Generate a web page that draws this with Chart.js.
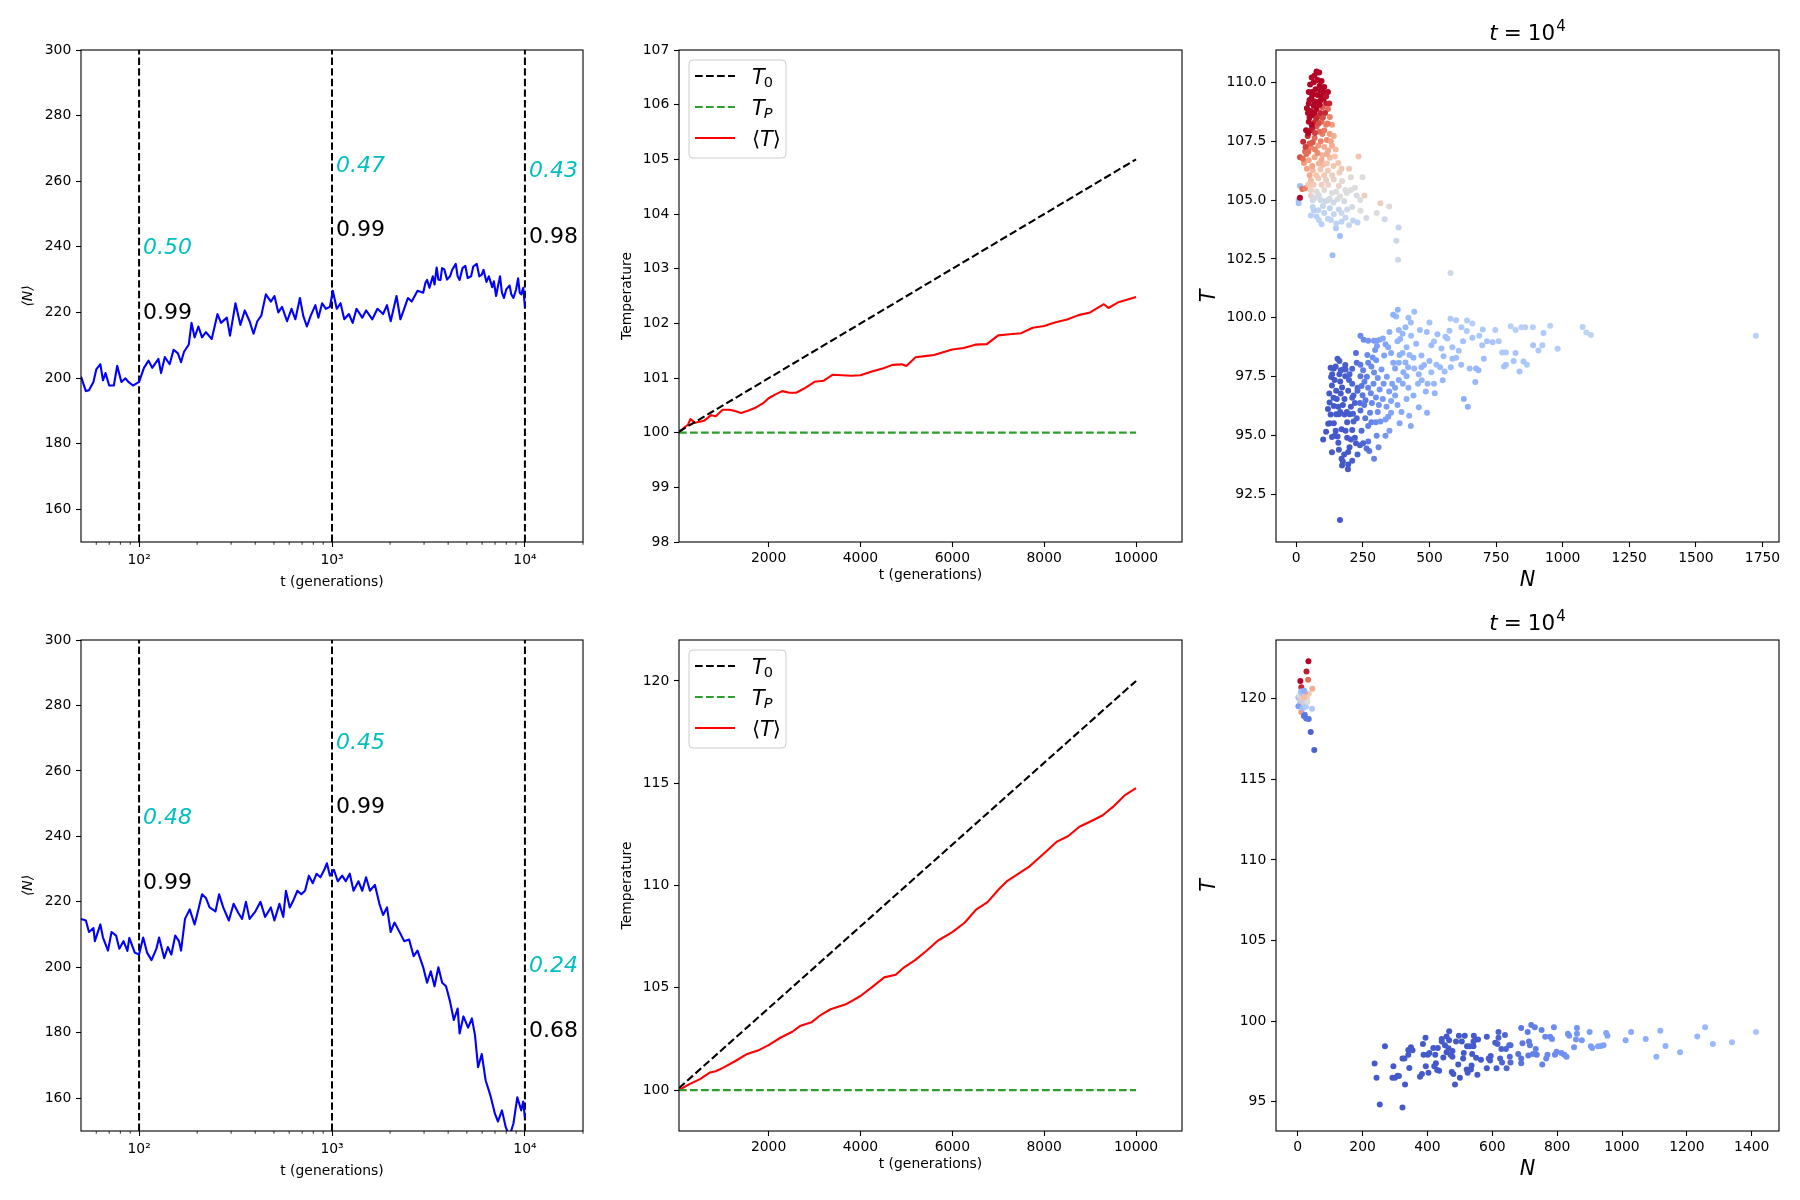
<!DOCTYPE html>
<html><head><meta charset="utf-8">
<script src="https://cdn.jsdelivr.net/npm/chart.js@4.4.0/dist/chart.umd.min.js"></script>
<style>
html,body{margin:0;padding:0;background:#fff;}
#wrap{position:relative;width:1800px;height:1200px;overflow:hidden;background:#fff;}
canvas{position:absolute;}
</style></head><body><div id="wrap">
<canvas id="c1"></canvas><canvas id="c2"></canvas><canvas id="c3"></canvas>
<canvas id="c4"></canvas><canvas id="c5"></canvas><canvas id="c6"></canvas>
</div>
<script>
// ===================== DATA =====================
// Panel 1 (top-left): <N> vs t (log axis)
const popTop = [[50,200.4],[53,196],[55,196.3],[58,198.8],[60,202.6],[63,204.2],[65,199.3],[67,201.5],[70,197.7],[74,197.7],[77,203.7],[81,198.8],[85,199.9],[88,198.8],[93,197.7],[100,198.8],[106,203.1],[112,205.3],[117,203.1],[126,205.8],[130,201.5],[136,206.4],[144,204.2],[151,208.6],[159,207.5],[165,204.8],[171,208],[181,210.2],[187,216.8],[194,212.4],[203,215.7],[212,212.4],[222,214],[238,211.9],[255,219.5],[266,216.8],[285,218.4],[296,212.9],[316,222.8],[335,216.2],[353,220.6],[374,217.3],[392,213.5],[410,217.3],[430,219],[454,225.5],[482,223.3],[503,225],[527,220],[551,221.7],[585,217.3],[617,221.1],[646,217.9],[682,224.4],[709,219],[741,215.7],[776,219],[820,222.2],[850,218.4],[889,222.8],[930,221.1],[975,221.7],[1010,226.6],[1058,221.1],[1107,222.8],[1158,217.9],[1223,219.5],[1280,216.8],[1340,221.1],[1435,218.4],[1502,220.6],[1618,217.9],[1720,221.1],[1840,219.5],[1928,222.2],[2015,217.3],[2160,225],[2262,217.9],[2366,221.1],[2475,224.4],[2590,223.3],[2775,226.6],[2970,226],[3050,229],[3110,229.9],[3200,227.5],[3330,231],[3400,228.5],[3486,233.7],[3560,230],[3650,229.9],[3720,233.5],[3820,233.1],[3950,230],[4090,231],[4200,233],[4380,234.8],[4480,231],[4585,229.9],[4750,233.5],[4910,234.2],[5050,230.5],[5260,231],[5400,234],[5630,234.8],[5800,231],[5975,231.5],[6100,233],[6320,229.3],[6500,231],[6770,227.7],[6900,229.5],[7090,225],[7250,228],[7430,231],[7600,226],[7780,224.4],[8000,227],[8330,228.2],[8500,225.5],[8720,224.4],[9000,227],[9220,230.4],[9400,226],[9570,225.5],[9800,227.5],[10000,221.7]];
// Panel 4 (bottom-left)
const popBot = [[50,214.8],[53,214.3],[55,210.8],[58,212],[59,208],[63,213.1],[65,209.1],[69,205.1],[72,210.8],[76,209.7],[79,205.7],[83,208],[87,205],[89,209],[95,204.5],[100,203.9],[105,209.1],[110,204.5],[116,202.2],[123,205.7],[127,209.1],[135,202.8],[141,206.2],[147,203.9],[154,209.7],[161,208],[165,205.1],[173,214.8],[183,217.7],[194,213.1],[203,217.7],[212,222.3],[222,221.2],[232,218.3],[249,217.1],[260,222.3],[273,218.3],[292,214.3],[309,219.4],[327,216.6],[342,214.8],[358,220],[374,214.8],[401,217.1],[426,220],[450,215.4],[482,218.3],[503,214.3],[534,219.4],[559,215.4],[577,223.4],[604,218.3],[632,220.6],[662,223.4],[693,222.3],[725,223.4],[759,228],[795,225.7],[832,228.6],[871,227.5],[912,229.8],[941,231.8],[976,228],[1023,229.8],[1071,226.3],[1129,228],[1178,226.3],[1236,228.6],[1293,223.4],[1371,226.3],[1435,223.4],[1502,227.5],[1573,223.4],[1668,225.2],[1761,219.4],[1840,216],[1928,218.3],[2015,210.8],[2108,213.7],[2262,210.3],[2366,208],[2510,208.5],[2650,203.4],[2775,205.1],[2970,200],[3110,195.3],[3250,198.8],[3400,194.2],[3560,200],[3725,195.3],[3900,194.2],[4090,189.6],[4280,183.9],[4480,187.4],[4585,179.8],[4800,185],[5075,181.6],[5310,184.4],[5510,179.3],[5715,169.5],[5975,173.5],[6255,165.5],[6620,160.9],[6995,155.2],[7250,152.9],[7600,156.3],[7960,151.1],[8330,148.5],[8720,152.3],[9130,160.3],[9570,156.3],[9800,159],[10000,154]];
const vLinesT = [100, 1000, 10000];
const annTopCyan = ['0.50','0.47','0.43'], annTopCyanY = [237.7, 262.9, 261.4];
const annTopBlack = ['0.99','0.99','0.98'], annTopBlackY = [218.1, 243.2, 241.2];
const annBotCyan = ['0.48','0.45','0.24'], annBotCyanY = [243.9, 266.8, 198.5];
const annBotBlack = ['0.99','0.99','0.68'], annBotBlackY = [223.8, 247.0, 178.7];
const logTicks = [100, 1000, 10000];
const logTickLabels = ['10\u00B2','10\u00B3','10\u2074'];
const logMinor = [60,70,80,90,200,300,400,500,600,700,800,900,2000,3000,4000,5000,6000,7000,8000,9000,20000];
const popYTicks = [160,180,200,220,240,260,280,300];

// Panel 2 (top-middle): temperatures
const t0Top = [[50,100.02],[10000,105]];
const tpTop = [[50,100],[10000,100]];
const meanTTop = [[50,100.0],[150,100.08],[250,100.15],[300,100.25],[400,100.18],[500,100.2],[600,100.22],[750,100.32],[850,100.3],[1000,100.42],[1150,100.42],[1250,100.4],[1400,100.36],[1550,100.4],[1700,100.45],[1800,100.5],[1900,100.55],[2000,100.63],[2150,100.7],[2300,100.76],[2450,100.73],[2600,100.73],[2800,100.82],[3000,100.93],[3200,100.95],[3400,101.06],[3600,101.05],[3800,101.04],[4000,101.05],[4250,101.12],[4500,101.18],[4700,101.24],[4900,101.25],[5000,101.22],[5200,101.38],[5400,101.4],[5600,101.42],[5800,101.47],[6000,101.52],[6250,101.55],[6500,101.61],[6750,101.62],[7000,101.78],[7250,101.8],[7500,101.82],[7750,101.92],[8000,101.95],[8250,102.02],[8500,102.07],[8750,102.15],[9000,102.2],[9200,102.3],[9300,102.35],[9400,102.28],[9600,102.38],[9800,102.43],[10000,102.48]];
// Panel 5 (bottom-middle)
const t0Bot = [[50,100.1],[10000,120]];
const tpBot = [[50,100],[10000,100]];
const meanTBot = [[50,100.0],[267,100.28],[517,100.55],[725,100.86],[850,100.92],[1017,101.1],[1267,101.41],[1517,101.75],[1767,101.93],[2000,102.2],[2267,102.57],[2517,102.85],[2683,103.13],[2933,103.31],[3142,103.68],[3350,103.95],[3683,104.19],[4000,104.6],[4267,105.06],[4517,105.51],[4767,105.64],[4933,105.97],[5183,106.34],[5433,106.8],[5683,107.3],[6000,107.72],[6267,108.18],[6517,108.82],[6767,109.19],[7017,109.83],[7183,110.2],[7433,110.57],[7683,110.94],[8000,111.58],[8267,112.13],[8517,112.41],[8767,112.87],[9017,113.14],[9267,113.42],[9517,113.88],[9767,114.43],[10000,114.76]];
const tempXTicks = [2000,4000,6000,8000,10000];
const tempTopYTicks = [98,99,100,101,102,103,104,105,106,107];
const tempBotYTicks = [100,105,110,115,120];
const legendNames = ['T_0','T_P','<T>'];

// Panel 3 (top-right) scatter: [N, T, colour value]
const scatTopUpper = [[76,110.46,1],[86,110.41,1],[69,110.29,1],[95,110.05,1],[119,109.59,1],[101,109.59,1],[47,109.59,1],[62,109.6,1],[80,109.46,1],[57,109.3,1],[69,109.18,1],[91,109.23,1],[112,109.1,0.97],[124,109.1,0.95],[47,109.1,1],[55,108.78,1],[76,108.86,1],[98,108.94,0.88],[62,108.61,1],[83,108.56,0.92],[119,108.86,0.85],[126,108.53,0.8],[47,108.32,1],[69,108.29,0.95],[95,108.32,0.85],[37,107.96,1],[55,107.96,0.97],[76,108.12,0.88],[112,108.2,0.8],[134,108.2,0.75],[26,107.47,0.95],[43,107.72,0.95],[69,107.63,0.85],[98,107.8,0.8],[126,107.8,0.75],[141,107.72,0.7],[14,106.82,0.9],[33,107.06,0.85],[55,107.23,0.8],[83,107.31,0.75],[105,107.25,0.7],[134,107.3,0.7],[148,107.15,0.65],[29,106.57,0.75],[47,106.69,0.72],[69,106.82,0.72],[98,106.9,0.68],[126,106.79,0.65],[158,106.57,0.62],[170,106.33,0.6],[198,106.33,0.6],[162,106.17,0.58],[205,105.97,0.52],[40,106.33,0.72],[62,106.25,0.65],[91,106.3,0.62],[119,106.25,0.6],[55,105.84,0.65],[83,105.92,0.6],[112,105.85,0.58],[141,105.87,0.55],[172,105.81,0.52],[184,105.43,0.5],[205,105.43,0.5],[227,105.19,0.48],[55,105.43,0.55],[76,105.36,0.52],[105,105.43,0.52],[134,105.3,0.5],[155,105.03,0.48],[62,104.99,0.45],[91,105.0,0.45],[119,104.99,0.45],[62,104.7,0.4],[83,104.57,0.4],[105,104.45,0.4],[126,104.65,0.4],[55,104.34,0.38],[76,104.3,0.38],[141,104.4,0.42],[170,104.45,0.45],[191,104.6,0.45],[213,104.13,0.4],[230,104.05,0.4],[198,103.93,0.42],[170,104.08,0.4],[95,103.97,0.38],[119,104.2,0.4],[234,106.85,0.62],[256,105.19,0.58],[316,104.86,0.58],[349,104.73,0.52],[302,104.45,0.5],[332,104.18,0.45],[263,104.24,0.47],[241,104.54,0.5],[249,105.97,0.5],[220,105.52,0.5],[384,103.83,0.42],[376,103.27,0.44],[382,102.46,0.45],[579,101.9,0.45],[136,102.66,0.3],[164,103.47,0.3],[149,103.8,0.35],[14,105.6,0.3],[9,105.0,0.3],[9,104.86,0.32],[14,105.1,1],[23,105.47,0.85],[33,105.5,0.8],[55,105.19,0.55],[66,110.0,1],[88,109.85,1],[105,109.8,1],[52,109.9,1],[73,109.7,1],[95,109.4,1],[40,108.9,1],[66,109.0,1],[88,109.05,1],[108,108.7,0.95],[50,108.5,1],[75,108.45,0.95],[100,108.5,0.9],[60,108.05,0.97],[88,107.9,0.85],[115,107.55,0.78],[50,107.4,0.88],[80,107.0,0.78],[115,106.95,0.7],[38,106.95,0.85],[60,106.45,0.72],[100,106.5,0.65],[140,106.45,0.62],[75,106.05,0.62],[120,105.65,0.55],[160,105.6,0.55],[95,105.65,0.58],[70,105.1,0.48],[140,104.9,0.45],[180,104.95,0.47],[100,104.75,0.42],[160,104.6,0.42],[85,104.15,0.38],[130,104.15,0.4],[150,104.0,0.4],[185,104.25,0.42],[66,104.55,0.38],[210,104.7,0.47],[240,105.0,0.5],[58,110.2,1],[80,110.1,1],[92,109.65,1],[60,109.45,1],[103,109.3,1],[50,109.25,1],[78,109.15,1],[112,109.4,0.98],[44,108.7,1],[67,108.7,1],[90,108.7,0.95],[118,108.25,0.82],[58,108.2,1],[84,108.25,0.9],[45,107.85,1],[70,107.85,0.92],[105,107.95,0.82],[130,107.5,0.72],[35,107.25,0.92],[62,107.45,0.88],[92,107.5,0.8],[120,107.1,0.7],[45,107.05,0.85],[70,107.15,0.8],[95,106.7,0.7],[145,106.85,0.62],[25,106.75,0.85],[50,106.05,0.7],[85,106.55,0.68],[115,106.55,0.62],[135,106.05,0.58],[65,105.65,0.6],[105,106.05,0.6],[150,105.35,0.5],[45,105.65,0.62],[125,105.05,0.47],[85,105.2,0.48],[110,104.95,0.45],[190,105.3,0.5],[165,105.15,0.5]];
const scatTopLower = [[1725,99.24,0.38],[1075,99.61,0.38],[1089,99.38,0.4],[1106,99.27,0.4],[981,98.68,0.36],[953,99.66,0.38],[928,99.35,0.35],[924,98.83,0.35],[909,98.61,0.35],[888,99.6,0.37],[889,98.83,0.33],[859,99.6,0.37],[845,99.6,0.38],[823,99.48,0.37],[805,99.64,0.38],[838,97.72,0.33],[866,98.01,0.35],[853,98.14,0.33],[823,98.5,0.33],[816,98.17,0.33],[787,98.53,0.35],[780,97.93,0.32],[787,98.01,0.33],[773,98.53,0.35],[747,99.48,0.36],[737,98.96,0.33],[716,99.0,0.33],[704,98.26,0.3],[698,98.83,0.33],[684,97.77,0.28],[687,99.24,0.35],[675,97.85,0.28],[661,99.76,0.36],[641,99.89,0.36],[640,99.44,0.35],[651,97.85,0.3],[672,97.27,0.28],[644,96.22,0.25],[629,96.55,0.25],[661,99.15,0.33],[626,99.0,0.32],[619,98.01,0.3],[600,99.9,0.35],[579,99.96,0.35],[575,99.45,0.33],[586,98.75,0.32],[586,98.26,0.3],[567,99.12,0.32],[553,98.37,0.3],[557,97.72,0.3],[550,97.35,0.28],[526,98.01,0.3],[517,98.99,0.32],[507,98.83,0.3],[500,98.17,0.28],[493,97.2,0.27],[486,96.87,0.27],[491,95.97,0.25],[507,97.69,0.3],[517,97.2,0.28],[457,97.2,0.27],[471,97.35,0.27],[443,97.85,0.28],[464,99.48,0.3],[431,99.24,0.3],[425,98.42,0.28],[414,98.75,0.28],[399,99.32,0.28],[385,99.48,0.28],[375,100.05,0.28],[364,100.13,0.25],[381,100.34,0.27],[421,100.0,0.3],[443,100.26,0.3],[414,97.52,0.25],[421,97.03,0.25],[414,96.55,0.25],[424,95.84,0.25],[388,95.52,0.22],[356,95.97,0.22],[335,95.68,0.2],[335,94.99,0.18],[309,94.5,0.15],[292,94.02,0.13],[302,94.99,0.15],[270,94.75,0.1],[274,94.34,0.1],[264,94.45,0.08],[251,94.67,0.06],[239,94.59,0.05],[224,94.67,0.04],[220,94.91,0.04],[195,93.77,0.03],[172,93.73,0.03],[170,94.01,0.03],[194,93.57,0.03],[210,93.93,0.04],[164,91.41,0.03],[134,94.29,0.03],[101,94.83,0.03],[112,95.16,0.03],[134,94.94,0.03],[155,94.96,0.03],[158,94.69,0.03],[126,95.52,0.03],[141,95.52,0.03],[129,95.89,0.03],[119,96.13,0.03],[141,96.25,0.03],[124,96.79,0.03],[134,97.12,0.03],[131,97.49,0.03],[155,98.26,0.04],[162,98.17,0.04],[148,97.93,0.04],[144,97.36,0.03],[162,97.6,0.03],[172,97.04,0.03],[184,97.52,0.04],[198,97.36,0.05],[210,97.2,0.06],[227,98.09,0.08],[230,97.03,0.07],[220,96.38,0.05],[205,96.22,0.04],[181,95.89,0.03],[191,95.56,0.03],[210,95.24,0.04],[227,95.73,0.06],[213,95.93,0.05],[181,96.55,0.03],[167,96.79,0.03],[152,96.55,0.03],[158,96.22,0.03],[170,95.27,0.03],[148,95.2,0.03],[191,94.91,0.03],[205,94.83,0.04],[241,98.01,0.1],[251,97.77,0.12],[241,97.52,0.1],[256,97.28,0.12],[270,97.03,0.13],[249,96.71,0.1],[239,96.38,0.08],[241,96.06,0.08],[259,95.73,0.1],[277,95.97,0.13],[282,95.56,0.13],[299,95.56,0.15],[316,95.6,0.17],[306,96.0,0.16],[284,96.38,0.14],[299,96.62,0.16],[313,96.95,0.18],[325,96.55,0.18],[339,96.22,0.2],[356,96.47,0.22],[371,96.7,0.22],[328,97.2,0.18],[306,97.44,0.17],[292,97.68,0.16],[282,97.93,0.15],[270,98.09,0.14],[267,98.42,0.15],[287,98.31,0.17],[296,98.63,0.18],[303,98.8,0.2],[313,99.07,0.22],[325,99.12,0.23],[335,98.88,0.22],[345,98.75,0.23],[356,98.5,0.23],[364,98.09,0.23],[371,97.85,0.22],[385,98.09,0.25],[388,98.42,0.25],[399,98.5,0.27],[402,97.69,0.25],[385,97.36,0.23],[371,97.03,0.22],[349,96.87,0.2],[241,99.24,0.15],[253,99.07,0.15],[270,99.02,0.17],[292,99.02,0.18],[302,99.02,0.2],[224,98.5,0.08],[210,97.84,0.06],[184,98.0,0.04],[167,97.77,0.04],[141,97.85,0.03],[129,97.88,0.03],[150,96.9,0.03],[175,96.3,0.03],[195,96.9,0.04],[200,95.9,0.04],[185,97.8,0.04],[160,95.9,0.03],[215,96.7,0.05],[200,94.5,0.03],[180,94.2,0.03],[120,95.5,0.03],[245,95.2,0.07],[260,96.5,0.1],[230,94.2,0.05],[175,93.9,0.03],[190,96.0,0.03],[165,97.3,0.03],[350,99.4,0.25],[380,99.0,0.27],[410,99.6,0.28],[450,98.9,0.28],[470,98.4,0.28],[440,96.7,0.25],[460,96.2,0.25],[480,98.0,0.28],[530,99.3,0.3],[545,98.7,0.3],[560,99.2,0.32],[610,98.6,0.32],[620,99.6,0.35],[700,99.5,0.35],[760,99.0,0.35],[520,96.8,0.27],[395,96.0,0.23],[430,95.4,0.23],[350,95.2,0.2],[460,97.6,0.27],[140,96.6,0.03],[165,96.0,0.03],[185,95.2,0.03],[150,95.9,0.03],[200,97.6,0.05],[175,97.8,0.04],[215,95.6,0.05],[230,96.9,0.07],[195,94.3,0.03],[160,94.4,0.03],[145,95.0,0.03],[125,96.4,0.03],[135,97.6,0.03],[210,96.6,0.05],[245,97.1,0.1],[255,96.3,0.1],[270,95.4,0.12],[280,96.8,0.14],[290,97.2,0.15],[265,97.5,0.12],[300,98.2,0.18],[320,97.8,0.19],[340,97.5,0.2],[360,97.2,0.21],[330,98.4,0.21],[310,96.3,0.17],[345,95.8,0.2],[380,96.3,0.22],[400,97.2,0.24],[420,97.9,0.26],[440,98.3,0.27],[410,98.1,0.26],[390,99.1,0.27],[430,99.8,0.3],[490,99.4,0.3],[500,99.8,0.32],[470,97.9,0.27],[540,97.9,0.29],[580,97.9,0.3],[600,98.3,0.31]];
const scatTopXTicks = [0,250,500,750,1000,1250,1500,1750];
const scatTopYTicks = [92.5,95.0,97.5,100.0,102.5,105.0,107.5,110.0];

// Panel 6 (bottom-right) scatter
const scatBotUpper = [[33,122.32,1],[27,121.68,0.97],[8,121.09,1],[32,121.18,0.85],[11,120.71,0.95],[17,120.47,0.9],[45,120.62,0.7],[34,120.3,0.6],[22,120.3,0.75],[2,120.07,0.3],[14,119.9,0.4],[7,119.72,0.45],[28,120.07,0.55],[17,119.6,0.6],[11,119.17,0.75],[44,119.38,0.35],[2,119.53,0.2],[22,119.0,0.15],[19,118.93,0.1],[34,118.74,0.1],[26,118.77,0.1],[40,117.94,0.05],[51,116.82,0.05],[5,120.19,0.5],[14,120.19,0.35],[19,119.9,0.4],[10,120.45,0.3],[20,120.5,0.25],[15,119.4,0.3],[25,119.5,0.35],[8,119.9,0.35],[30,119.8,0.5],[12,120.0,0.6],[20,120.1,0.65]];
const scatBotLower = [[237,97.37,0.03],[243,96.49,0.03],[253,94.83,0.03],[269,98.44,0.03],[295,97.2,0.03],[292,96.49,0.03],[300,96.49,0.03],[308,96.61,0.03],[312,96.6,0.03],[323,97.68,0.03],[329,97.68,0.03],[323,94.64,0.03],[331,96.07,0.03],[341,98.22,0.03],[341,97.92,0.03],[344,97.1,0.03],[349,98.39,0.03],[354,98.2,0.03],[377,96.56,0.03],[383,96.73,0.03],[386,98.58,0.03],[388,97.92,0.03],[394,98.98,0.03],[395,97.2,0.03],[401,97.92,0.03],[403,96.8,0.03],[406,98.03,0.03],[418,98.34,0.03],[421,97.2,0.03],[424,97.92,0.03],[426,97.39,0.03],[430,96.97,0.03],[432,98.34,0.03],[436,96.92,0.03],[444,98.74,0.03],[444,98.9,0.03],[449,97.75,0.03],[454,98.51,0.03],[459,98.08,0.03],[459,99.05,0.03],[467,99.38,0.03],[467,98.82,0.03],[465,98.32,0.03],[471,97.92,0.03],[475,96.85,0.03],[477,98.15,0.03],[477,97.8,0.03],[480,96.73,0.03],[485,96.07,0.03],[488,98.74,0.03],[495,97.32,0.03],[497,99.1,0.03],[500,96.49,0.03],[506,98.74,0.03],[510,97.68,0.03],[512,98.03,0.03],[515,99.1,0.03],[522,98.44,0.03],[521,97.01,0.03],[524,96.8,0.03],[530,98.44,0.03],[534,97.01,0.03],[536,97.25,0.03],[538,97.96,0.03],[542,98.74,0.03],[543,99.1,0.03],[542,98.44,0.03],[548,98.86,0.03],[550,97.73,0.03],[554,96.68,0.03],[556,98.86,0.03],[565,97.61,0.03],[583,99.03,0.04],[583,97.08,0.04],[589,97.68,0.04],[593,97.56,0.04],[595,97.84,0.04],[609,98.67,0.04],[613,97.08,0.04],[616,98.58,0.05],[619,99.33,0.05],[619,98.98,0.05],[624,97.68,0.05],[628,98.27,0.05],[630,97.44,0.06],[639,99.15,0.06],[642,98.27,0.06],[644,97.08,0.06],[652,98.51,0.07],[654,97.8,0.07],[656,98.51,0.07],[656,97.44,0.07],[680,97.96,0.09],[689,99.57,0.1],[693,98.63,0.1],[689,97.68,0.09],[689,97.39,0.09],[709,99.33,0.11],[713,98.74,0.11],[716,98.51,0.11],[711,97.87,0.11],[720,99.76,0.12],[725,97.96,0.12],[731,99.62,0.12],[734,98.27,0.12],[737,97.92,0.12],[752,99.45,0.13],[754,97.32,0.13],[763,99.03,0.14],[766,97.68,0.14],[770,97.92,0.14],[778,99.03,0.14],[784,98.9,0.15],[790,99.62,0.15],[793,97.92,0.15],[798,98.1,0.15],[813,98.03,0.16],[822,97.92,0.16],[829,97.8,0.17],[833,99.22,0.17],[837,99.1,0.17],[852,98.39,0.18],[861,99.57,0.18],[861,99.22,0.18],[858,98.86,0.18],[876,98.82,0.19],[900,99.33,0.2],[904,98.44,0.2],[908,98.34,0.2],[926,98.44,0.21],[935,98.46,0.21],[943,98.51,0.21],[951,99.27,0.22],[955,99.1,0.22],[1011,98.82,0.23],[1028,99.33,0.24],[1073,98.9,0.25],[1106,97.8,0.26],[1118,99.41,0.26],[1134,98.46,0.26],[1179,98.08,0.27],[1232,99.05,0.28],[1256,99.62,0.29],[1280,98.58,0.29],[1339,98.7,0.31],[1413,99.33,0.33]];
const scatBotXTicks = [0,200,400,600,800,1000,1200,1400];
const scatBotYTicks = [95,100,105,110,115,120];

// ===================== RENDERING =====================
const FONT = '"DejaVu Sans", sans-serif';
Chart.defaults.font.family = FONT;
Chart.defaults.font.size = 13.9;
Chart.defaults.color = '#000';

const PAD = {l: 80, r: 40, t: 50, b: 60};
const BOX = {
  c1: {x: 81, y: 50, w: 502, h: 492}, c2: {x: 679, y: 50, w: 503, h: 492}, c3: {x: 1276, y: 50, w: 503, h: 492},
  c4: {x: 81, y: 640, w: 502, h: 491}, c5: {x: 679, y: 640, w: 503, h: 491}, c6: {x: 1276, y: 640, w: 503, h: 491}
};

const CW = [[59,76,192],[98,130,234],[141,176,254],[184,208,249],[221,221,221],[245,196,173],[244,154,123],[222,96,77],[180,4,38]];
function coolwarm(c) {
  c = Math.max(0, Math.min(1, c));
  const p = c * 8, i = Math.min(7, Math.floor(p)), f = p - i, a = CW[i], b = CW[i + 1];
  return 'rgb(' + [0,1,2].map(k => Math.round(a[k] + (b[k] - a[k]) * f)).join(',') + ')';
}

function xy(arr) { return arr.map(p => ({x: p[0], y: p[1]})); }

function scaleX(o) {
  return {
    type: o.type || 'linear', position: 'bottom', min: o.min, max: o.max,
    afterBuildTicks: s => { s.ticks = o.ticks.map(v => ({value: v})); },
    afterFit: s => { s.height = PAD.b; },
    ticks: {autoSkip: false, maxRotation: 0, minRotation: 0, padding: o.tpad, color: '#000', font: {size: 13.9},
      callback: (v, i) => o.labels[i]},
    grid: {display: true, drawOnChartArea: false, drawTicks: true, tickLength: 5, tickWidth: 1.1, tickColor: '#000'},
    border: {display: false},
    title: {display: true, text: o.title, color: '#000', font: o.tfont, padding: {top: 0, bottom: o.tp}}
  };
}
function scaleY(o) {
  return {
    type: 'linear', position: 'left', min: o.min, max: o.max,
    afterBuildTicks: s => { s.ticks = o.ticks.map(v => ({value: v})); },
    afterFit: s => { s.width = PAD.l; },
    ticks: {autoSkip: false, padding: 4.7, color: '#000', font: {size: 13.9}, callback: (v, i) => o.labels[i]},
    grid: {display: true, drawOnChartArea: false, drawTicks: true, tickLength: 5, tickWidth: 1.1, tickColor: '#000'},
    border: {display: false},
    title: {display: true, text: o.title, color: '#000', font: o.tfont, padding: {top: o.tp, bottom: 0}}
  };
}

const framePlugin = {
  id: 'frame',
  afterDraw(chart) {
    const {ctx, chartArea: a} = chart;
    ctx.save(); ctx.strokeStyle = '#000'; ctx.lineWidth = 1.1; ctx.setLineDash([]);
    ctx.strokeRect(a.left, a.top, a.right - a.left, a.bottom - a.top);
    ctx.restore();
  }
};
function minorPlugin(values) {
  return { id: 'minor', afterDraw(chart) {
    const {ctx, chartArea: a} = chart, s = chart.scales.x;
    ctx.save(); ctx.strokeStyle = '#000'; ctx.lineWidth = 0.8; ctx.beginPath();
    values.forEach(v => { const px = s.getPixelForValue(v); ctx.moveTo(px, a.bottom); ctx.lineTo(px, a.bottom + 2.8); });
    ctx.stroke(); ctx.restore();
  }};
}
function annPlugin(ts, cyan, cyanY, black, blackY) {
  return { id: 'ann', afterDatasetsDraw(chart) {
    const ctx = chart.ctx, xs = chart.scales.x, ys = chart.scales.y;
    ctx.save(); ctx.textAlign = 'left'; ctx.textBaseline = 'alphabetic';
    ts.forEach((t, i) => {
      const px = xs.getPixelForValue(t) + 4;
      ctx.font = 'italic 22px ' + FONT; ctx.fillStyle = '#00bfbf';
      ctx.fillText(cyan[i], px, ys.getPixelForValue(cyanY[i]));
      ctx.font = '22px ' + FONT; ctx.fillStyle = '#000';
      ctx.fillText(black[i], px, ys.getPixelForValue(blackY[i]));
    });
    ctx.restore();
  }};
}
// draw a small math-like label made of segments
function drawSegs(ctx, segs, x, y) {
  segs.forEach(sg => {
    ctx.font = (sg.it ? 'italic ' : '') + sg.size + 'px ' + FONT;
    ctx.fillText(sg.t, x, y + (sg.dy || 0));
    x += ctx.measureText(sg.t).width + (sg.gap || 0);
  });
  return x;
}
function segWidth(ctx, segs) {
  let w = 0;
  segs.forEach(sg => { ctx.font = (sg.it ? 'italic ' : '') + sg.size + 'px ' + FONT; w += ctx.measureText(sg.t).width + (sg.gap || 0); });
  return w;
}
function labelSegs(name) {
  if (name === 'T_0') return [{t: 'T', it: true, size: 20.8, gap: -1}, {t: '0', size: 14.5, dy: 3.5}];
  if (name === 'T_P') return [{t: 'T', it: true, size: 20.8, gap: -1}, {t: 'P', it: true, size: 14.5, dy: 3.5}];
  return [{t: '\u27E8', size: 20.8}, {t: 'T', it: true, size: 20.8}, {t: '\u27E9', size: 20.8}];
}
const legendPlugin = {
  id: 'mplLegend',
  afterDraw(chart) {
    const {ctx, chartArea: a} = chart;
    const x0 = a.left + 10, y0 = a.top + 10, w = 97, h = 98, r = 4;
    ctx.save();
    ctx.beginPath();
    ctx.moveTo(x0 + r, y0); ctx.lineTo(x0 + w - r, y0); ctx.arcTo(x0 + w, y0, x0 + w, y0 + r, r);
    ctx.lineTo(x0 + w, y0 + h - r); ctx.arcTo(x0 + w, y0 + h, x0 + w - r, y0 + h, r);
    ctx.lineTo(x0 + r, y0 + h); ctx.arcTo(x0, y0 + h, x0, y0 + h - r, r);
    ctx.lineTo(x0, y0 + r); ctx.arcTo(x0, y0, x0 + r, y0, r); ctx.closePath();
    ctx.fillStyle = 'rgba(255,255,255,0.8)'; ctx.fill();
    ctx.strokeStyle = '#cccccc'; ctx.lineWidth = 1; ctx.stroke();
    chart.data.datasets.slice(0, 3).forEach((ds, i) => {
      const cy = y0 + 16 + i * 31;
      ctx.beginPath(); ctx.setLineDash(ds.borderDash || []);
      ctx.strokeStyle = ds.borderColor; ctx.lineWidth = ds.borderWidth;
      ctx.moveTo(x0 + 6, cy); ctx.lineTo(x0 + 46, cy); ctx.stroke();
      ctx.setLineDash([]); ctx.fillStyle = '#000'; ctx.textBaseline = 'alphabetic'; ctx.textAlign = 'left';
      drawSegs(ctx, labelSegs(ds.label), x0 + 63, cy + 7.5);
    });
    ctx.restore();
  }
};
const titlePlugin = {
  id: 'mplTitle',
  afterDraw(chart) {
    const {ctx, chartArea: a} = chart;
    const segs = [{t: 't', it: true, size: 21.5, gap: 6}, {t: '=', size: 21.5, gap: 6}, {t: '10', size: 21.5, gap: 1}, {t: '4', size: 15, dy: -9}];
    ctx.save(); ctx.fillStyle = '#000'; ctx.textAlign = 'left'; ctx.textBaseline = 'alphabetic';
    const w = segWidth(ctx, segs);
    drawSegs(ctx, segs, (a.left + a.right) / 2 - w / 2, a.top - 10);
    ctx.restore();
  }
};

function mkChart(id, cfg, plugins) {
  const ax = BOX[id], cv = document.getElementById(id);
  const W = ax.w + PAD.l + PAD.r, H = ax.h + PAD.t + PAD.b;
  cv.width = W; cv.height = H;
  cv.style.left = (ax.x - PAD.l) + 'px'; cv.style.top = (ax.y - PAD.t) + 'px';
  cv.style.width = W + 'px'; cv.style.height = H + 'px';
  cfg.options.responsive = false;
  cfg.options.animation = false;
  cfg.options.devicePixelRatio = 1;
  cfg.options.layout = {padding: {left: 0, top: PAD.t, right: PAD.r, bottom: 0}};
  cfg.options.plugins = {legend: {display: false}, tooltip: {enabled: false}, title: {display: false}};
  cfg.plugins = [framePlugin].concat(plugins || []);
  return new Chart(cv, cfg);
}

function lineDs(pts, color, width, dash, label) {
  return {type: 'line', label: label || '', data: xy(pts), borderColor: color, borderWidth: width, borderDash: dash || [],
    pointRadius: 0, tension: 0, fill: false, clip: 0, borderJoinStyle: 'round'};
}

function popPanel(id, series, cyan, cyanY, black, blackY) {
  const yMin = 150, yMax = 300;
  const ds = [lineDs(series, '#0000ff', 2.1)];
  vLinesT.forEach(t => ds.push(lineDs([[t, yMin], [t, yMax]], '#000', 2, [7.4, 3.2])));
  return mkChart(id, {
    type: 'line', data: {datasets: ds},
    options: {scales: {
      x: scaleX({type: 'logarithmic', min: 50, max: 20000, ticks: logTicks, labels: logTickLabels, tpad: 5,
        title: 't (generations)', tfont: {size: 13.9}, tp: 11.7}),
      y: scaleY({min: yMin, max: yMax, ticks: popYTicks, labels: popYTicks.map(String),
        title: '\u27E8N\u27E9', tfont: {size: 13.9, style: 'italic'}, tp: 18.7})
    }}
  }, [minorPlugin(logMinor), annPlugin(vLinesT, cyan, cyanY, black, blackY)]);
}

function tempPanel(id, t0, tp, meanT, yMin, yMax, yTicks) {
  const ds = [
    lineDs(t0, '#000000', 2.1, [7.7, 3.3], legendNames[0]),
    lineDs(tp, '#2ca02c', 2.1, [7.7, 3.3], legendNames[1]),
    lineDs(meanT, '#ff0000', 2.1, [], legendNames[2])
  ];
  return mkChart(id, {
    type: 'line', data: {datasets: ds},
    options: {scales: {
      x: scaleX({min: 50, max: 11000, ticks: tempXTicks, labels: tempXTicks.map(String), tpad: 3.5,
        title: 't (generations)', tfont: {size: 13.9}, tp: 17.9}),
      y: scaleY({min: yMin, max: yMax, ticks: yTicks, labels: yTicks.map(String),
        title: 'Temperature', tfont: {size: 13.9}, tp: 20.2})
    }}
  }, [legendPlugin]);
}

function scatPanel(id, groups, xr, yr, xTicks, yTicks, yDec) {
  const ds = groups.map(g => ({
    type: 'scatter', data: xy(g), pointBackgroundColor: g.map(p => coolwarm(p[2])),
    pointBorderWidth: 0, pointBorderColor: 'rgba(0,0,0,0)', pointRadius: 3, clip: 0
  }));
  return mkChart(id, {
    type: 'scatter', data: {datasets: ds},
    options: {scales: {
      x: scaleX({min: xr[0], max: xr[1], ticks: xTicks, labels: xTicks.map(String), tpad: 3.5,
        title: 'N', tfont: {size: 20.8, style: 'italic'}, tp: 8.5}),
      y: scaleY({min: yr[0], max: yr[1], ticks: yTicks, labels: yTicks.map(v => v.toFixed(yDec)),
        title: 'T', tfont: {size: 20.8, style: 'italic'}, tp: 1.1})
    }}
  }, [titlePlugin]);
}

popPanel('c1', popTop, annTopCyan, annTopCyanY, annTopBlack, annTopBlackY);
popPanel('c4', popBot, annBotCyan, annBotCyanY, annBotBlack, annBotBlackY);
tempPanel('c2', t0Top, tpTop, meanTTop, 98, 107, tempTopYTicks);
tempPanel('c5', t0Bot, tpBot, meanTBot, 98, 122, tempBotYTicks);
scatPanel('c3', [scatTopLower, scatTopUpper], [-76, 1812], [90.48, 111.37], scatTopXTicks, scatTopYTicks, 1);
scatPanel('c6', [scatBotLower, scatBotUpper], [-67, 1484], [93.19, 123.64], scatBotXTicks, scatBotYTicks, 0);
</script>
</body></html>
